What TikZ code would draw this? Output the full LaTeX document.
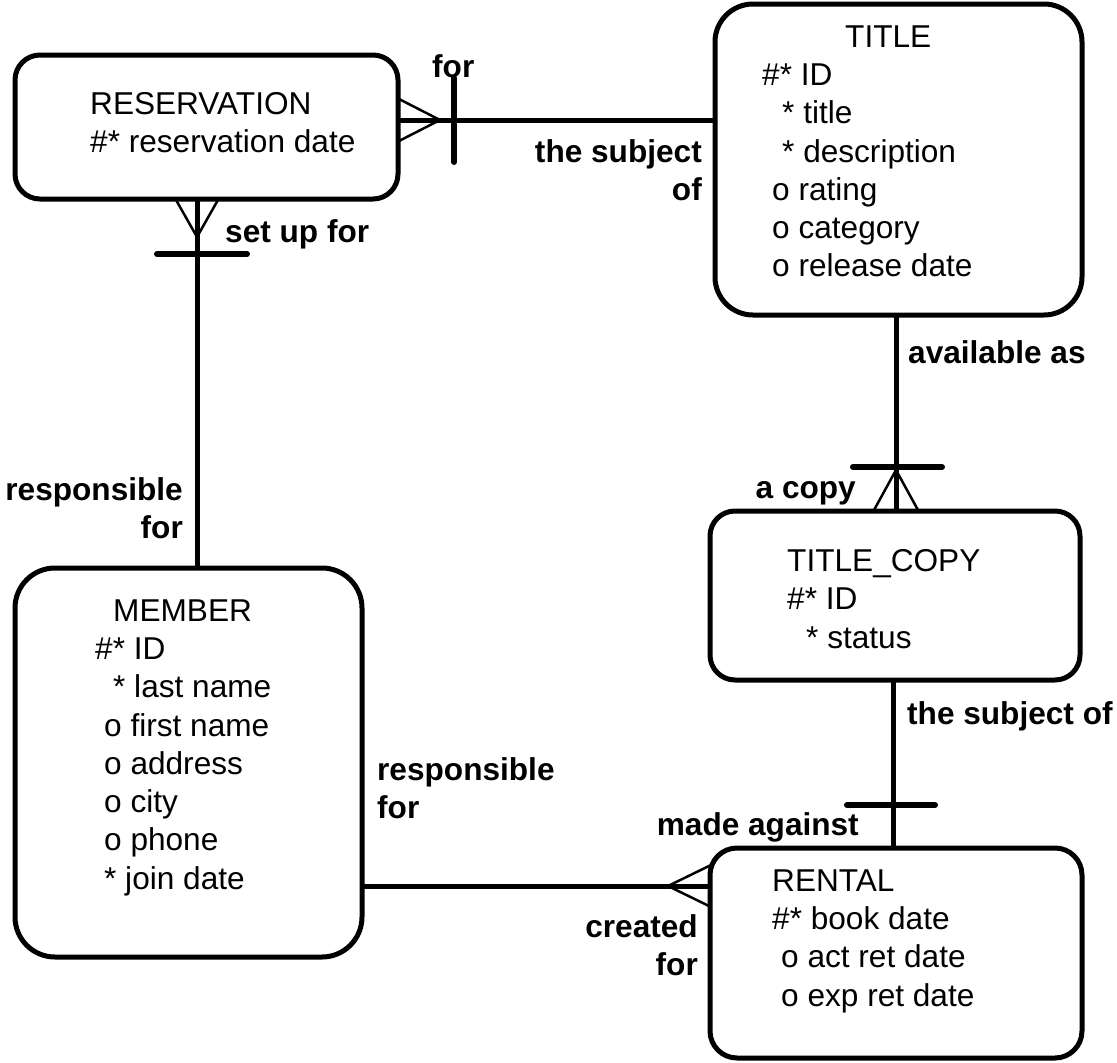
\documentclass[tikz,border=0pt]{standalone}
\usepackage{fontspec}
\setmainfont{Liberation Sans}
\usetikzlibrary{calc, positioning}

\begin{document}
\begin{tikzpicture}[x=1pt,y=-1pt,font=\fontsize{31.6}{38.3}\selectfont]
\tikzstyle{entity}=[draw=black,line width=5pt,inner sep=0pt,outer sep=0pt]
\tikzstyle{attrs}=[anchor=north west,align=left,inner sep=0pt]
\tikzstyle{rel}=[line width=5pt]
\tikzstyle{bar}=[line width=6pt,line cap=round]
\tikzstyle{crow}=[line width=2.5pt]
\tikzstyle{lbl}=[font=\fontsize{31.6}{38.3}\selectfont\bfseries,inner sep=0pt]

\useasboundingbox (0,0) rectangle (1117,1063);

% entities
\node[entity,rounded corners=25pt,minimum width=383pt,minimum height=144pt] (res) at (206.5,127) {};
\node[entity,rounded corners=38pt,minimum width=367pt,minimum height=311pt] (title) at (898.5,159.5) {};
\node[entity,rounded corners=25pt,minimum width=370pt,minimum height=169pt] (copy) at (895,595.5) {};
\node[entity,rounded corners=40pt,minimum width=347pt,minimum height=389pt] (member) at (188.5,762.5) {};
\node[entity,rounded corners=27pt,minimum width=372pt,minimum height=210pt] (rental) at (896,953) {};

\node[attrs] (restxt) at (90,92.2) {RESERVATION\\\#* reservation date};
\node[attrs] (titletxt) at (762,25.2) {\hspace*{83pt}TITLE\\\#* ID\\\hspace*{20pt}* title\\\hspace*{20pt}* description\\\hspace*{10pt}o rating\\\hspace*{10pt}o category\\\hspace*{10pt}o release date};
\node[attrs] (copytxt) at (787,549.2) {TITLE\_COPY\\\#* ID\\\hspace*{19pt}* status};
\node[attrs] (membertxt) at (95,599.2) {\hspace*{18pt}MEMBER\\\#* ID\\\hspace*{18pt}* last name\\\hspace*{9pt}o first name\\\hspace*{9pt}o address\\\hspace*{9pt}o city\\\hspace*{9pt}o phone\\\hspace*{9pt}* join date};
\node[attrs] (rentaltxt) at (772,869.2) {RENTAL\\\#* book date\\\hspace*{9pt}o act ret date\\\hspace*{9pt}o exp ret date};

% reservation - title
\draw[rel] ([yshift=7pt]res.east) coordinate (rt) -- (rt -| title.west);
\draw[crow] ($(rt)+(0,-21.5)$) -- ($(rt)+(42,0)$) -- ($(rt)+(0,21.5)$);
\draw[bar] ($(rt)+(56,-42)$) -- ($(rt)+(56,42)$);

% reservation - member
\draw[rel] ([xshift=-9.5pt]res.south) coordinate (rm) -- (rm |- member.north);
\draw[crow] ($(rm)+(-21.5,0)$) -- ($(rm)+(0,38)$) -- ($(rm)+(21.5,0)$);
\draw[bar] ($(rm)+(-40,55)$) -- ($(rm)+(50,55)$);

% title - title copy
\draw[rel] ([xshift=-2.5pt]title.south) coordinate (tc) -- (tc |- copy.north) coordinate (ct);
\draw[crow] ($(ct)+(-22.5,0)$) -- ($(ct)+(0,-41)$) -- ($(ct)+(22.5,0)$);
\draw[bar] ($(ct)+(-43,-44)$) -- ($(ct)+(46,-44)$);

% title copy - rental
\draw[rel] ([xshift=-2pt]copy.south) coordinate (cr) -- (cr |- rental.north) coordinate (rc);
\draw[bar] ($(rc)+(-46,-43)$) -- ($(rc)+(42,-43)$);

% member - rental
\draw[rel] ([yshift=67pt]rental.west) coordinate (rr) -- (rr -| member.east);
\draw[crow] ($(rr)+(0,-20.5)$) -- ($(rr)+(-42,0)$) -- ($(rr)+(0,20.5)$);

% relationship names
\node[lbl,anchor=base west] (forlbl) at (432,77) {for};
\node[lbl,anchor=north east,align=right] (subjlbl) at (702,139.2) {the subject\\of};
\node[lbl,anchor=base west] (setuplbl) at (225,242) {set up for};
\node[lbl,anchor=base west] (availlbl) at (908,363) {available as};
\node[lbl,anchor=base east] (copylbl) at (856,498) {a copy};
\node[lbl,anchor=north east,align=right] (resplbl) at (183,477) {responsible\\for};
\node[lbl,anchor=base west] (subjcopylbl) at (907,724) {the subject of};
\node[lbl,anchor=north west,align=left] (respmemlbl) at (377,757) {responsible\\for};
\node[lbl,anchor=base east] (madelbl) at (859,835) {made against};
\node[lbl,anchor=north east,align=right] (createdlbl) at (698,914) {created\\for};
\end{tikzpicture}
\end{document}
